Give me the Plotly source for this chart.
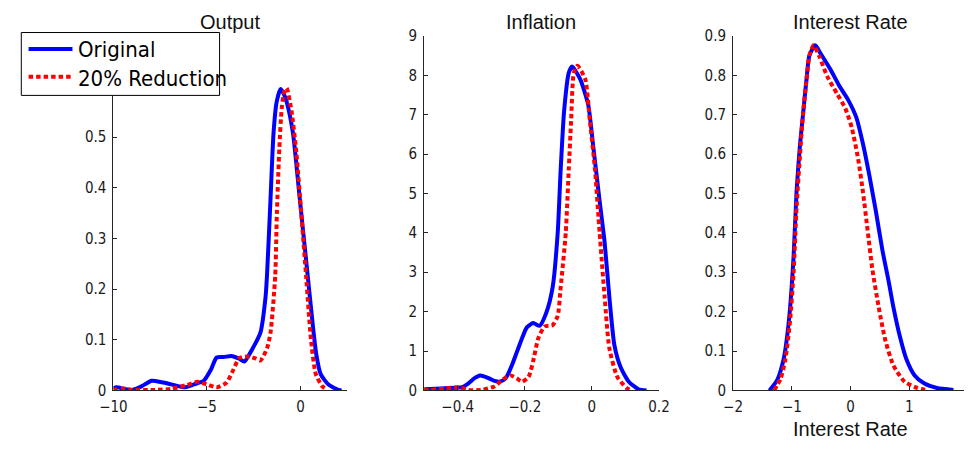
import plotly.graph_objects as go

# ---- Output density ----
out_x_orig = [-10.0, -9.84, -9.4, -8.99, -8.5, -7.95, -7.4, -6.91, -6.2, -5.69, -5.17, -4.8,
              -4.48, -4.1, -3.70, -3.3, -3.0, -2.6, -2.14, -1.87, -1.79, -1.61, -1.44, -1.27,
              -1.06, -0.90, -0.74, -0.40, -0.05, 0.30, 0.65, 0.85, 1.08, 1.51, 2.03, 2.2]
out_y_orig = [0.004, 0.006, 0.003, 0.001, 0.008, 0.019, 0.016, 0.012, 0.006, 0.012, 0.019, 0.040,
              0.065, 0.066, 0.068, 0.063, 0.057, 0.080, 0.114, 0.183, 0.226, 0.370, 0.508, 0.570,
              0.595, 0.586, 0.570, 0.508, 0.383, 0.258, 0.132, 0.070, 0.032, 0.011, 0.001, 0.0]
out_x_red = [-10.0, -9.84, -9.5, -9.0, -7.78, -6.91, -6.05, -5.52, -5.0, -4.48, -3.96, -3.61,
             -3.26, -2.74, -2.4, -2.14, -1.79, -1.6, -1.35, -1.26, -1.13, -1.0, -0.87, -0.74,
             -0.48, -0.22, 0.04, 0.30, 0.56, 0.82, 1.17, 1.43]
out_y_red = [0.001, 0.002, 0.004, 0.001, 0.001, 0.003, 0.011, 0.017, 0.012, 0.006, 0.015, 0.039,
             0.064, 0.067, 0.063, 0.059, 0.083, 0.114, 0.226, 0.351, 0.477, 0.558, 0.590, 0.597,
             0.552, 0.470, 0.351, 0.226, 0.101, 0.032, 0.008, 0.001]

# ---- Inflation density ----
inf_x_orig = [-0.5, -0.45, -0.40, -0.387, -0.368, -0.350, -0.334, -0.320, -0.305, -0.290, -0.276,
              -0.262, -0.252, -0.238, -0.223, -0.208, -0.194, -0.175, -0.156, -0.136, -0.117,
              -0.102, -0.093, -0.083, -0.069, -0.059, -0.035, -0.011, 0.004, 0.023, 0.038, 0.052,
              0.067, 0.086, 0.110, 0.139, 0.163]
inf_y_orig = [0.03, 0.05, 0.07, 0.08, 0.18, 0.31, 0.38, 0.35, 0.30, 0.24, 0.22,
              0.27, 0.38, 0.65, 0.99, 1.33, 1.60, 1.71, 1.64, 1.97, 2.62,
              4.0, 5.62, 7.08, 8.06, 8.22, 7.9, 7.25, 6.19, 4.81, 3.75, 2.37,
              1.15, 0.58, 0.22, 0.03, 0.0]
inf_x_red = [-0.5, -0.484, -0.436, -0.397, -0.368, -0.33, -0.291, -0.262, -0.242, -0.223, -0.209,
             -0.189, -0.175, -0.16, -0.141, -0.117, -0.102, -0.093, -0.078, -0.069, -0.062,
             -0.054, -0.043, -0.020, -0.006, 0.009, 0.023, 0.038, 0.052, 0.076, 0.105, 0.12]
inf_y_red = [0.01, 0.01, 0.05, 0.08, 0.01, 0.01, 0.1, 0.3, 0.38, 0.30, 0.22,
             0.34, 0.75, 1.32, 1.62, 1.66, 1.89, 2.62, 4.0, 5.62, 6.84,
             8.06, 8.24, 7.9, 6.84, 5.62, 4.0, 2.37, 1.07, 0.34, 0.05, 0.0]

# ---- Interest rate density ----
int_x_orig = [-1.38, -1.25, -1.14, -1.05, -0.97, -0.92, -0.86, -0.81, -0.75, -0.70, -0.60, -0.51,
              -0.34, -0.18, -0.04, 0.10, 0.21, 0.32, 0.43, 0.54, 0.65, 0.73, 0.84, 0.95,
              1.09, 1.25, 1.47, 1.75]
int_y_orig = [0.0, 0.026, 0.079, 0.177, 0.34, 0.504, 0.626, 0.70, 0.79, 0.851, 0.876, 0.855,
              0.814, 0.77, 0.737, 0.692, 0.626, 0.545, 0.455, 0.357, 0.275, 0.21, 0.136, 0.079,
              0.038, 0.018, 0.006, 0.001]
int_x_red = [-1.30, -1.19, -1.11, -1.03, -0.97, -0.92, -0.86, -0.81, -0.75, -0.70, -0.63, -0.53,
             -0.40, -0.23, -0.09, 0.02, 0.13, 0.21, 0.29, 0.37, 0.48, 0.59, 0.73, 0.92,
             1.14, 1.31]
int_y_red = [0.0, 0.03, 0.079, 0.177, 0.30, 0.463, 0.60, 0.70, 0.79, 0.85, 0.876, 0.847,
             0.798, 0.753, 0.716, 0.667, 0.586, 0.504, 0.406, 0.308, 0.21, 0.128, 0.063, 0.022,
             0.006, 0.001]

titles = ["Output", "Inflation", "Interest Rate"]
legend_labels = ["Original", "20% Reduction"]

# y tick values per panel (upper Output ticks sit beneath the legend box)
out_yticks = [0, 0.1, 0.2, 0.3, 0.4, 0.5]
inf_yticks = [0, 1, 2, 3, 4, 5, 6, 7, 8, 9]
int_yticks = [0, 0.1, 0.2, 0.3, 0.4, 0.5, 0.6, 0.7, 0.8, 0.9]

W, H = 975, 450
BLUE = "#0000FF"
RED = "#FF0000"
AXC = "#262626"
NARROW = "DejaVu Sans Condensed, Liberation Sans Narrow, sans-serif"
REG = "Liberation Sans, Arial, sans-serif"
RED_DASH = "4.5px,3px"

# axes pixel boxes (left, right), shared top/bottom
boxes = [(102, 342), (421, 662), (738, 975)]
top_px, bot_px = 28, 397.3
centers = [222, 541, 858]

def px_x(p):
    return p / W

def px_y(p):
    return 1 - p / H

fig = go.Figure()

panels = [
    (out_x_orig, out_y_orig, out_x_red, out_y_red),
    (inf_x_orig, inf_y_orig, inf_x_red, inf_y_red),
    (int_x_orig, int_y_orig, int_x_red, int_y_red),
]
for i, (xo, yo, xr, yr) in enumerate(panels):
    suf = "" if i == 0 else str(i + 1)
    fig.add_trace(go.Scatter(x=xo, y=yo, mode="lines",
                             line=dict(color=BLUE, width=4, shape="spline", smoothing=0.6),
                             xaxis="x" + suf, yaxis="y" + suf, showlegend=False, name=legend_labels[0]))
    fig.add_trace(go.Scatter(x=xr, y=yr, mode="lines",
                             line=dict(color=RED, width=4, dash=RED_DASH, shape="spline", smoothing=0.6),
                             xaxis="x" + suf, yaxis="y" + suf, showlegend=False, name=legend_labels[1]))

x_ranges = [[-10, 2.5], [-0.5, 0.2001], [-2, 1.93]]
x_dticks = [5, 0.2, 1]
y_ranges = [[0, 0.7], [0, 9], [0, 0.9]]
y_tickvals = [out_yticks, inf_yticks, int_yticks]

common = dict(showgrid=False, zeroline=False, showline=True, linecolor=AXC, linewidth=1,
              ticks="inside", ticklen=4, tickcolor=AXC, tickwidth=1,
              tickfont=dict(family=NARROW, size=15, color="#1a1a1a"), mirror=False)

layout = dict(width=W, height=H, margin=dict(l=0, r=0, t=0, b=0),
              paper_bgcolor="white", plot_bgcolor="white", showlegend=False)
for i in range(3):
    suf = "" if i == 0 else str(i + 1)
    l, r = boxes[i]
    layout["xaxis" + suf] = dict(common, domain=[px_x(l), px_x(r)], range=x_ranges[i],
                                 dtick=x_dticks[i], tick0=0, anchor="y" + suf, ticklabelstandoff=3)
    layout["yaxis" + suf] = dict(common, domain=[px_y(bot_px), px_y(top_px)], range=y_ranges[i],
                                 tickmode="array", tickvals=y_tickvals[i], anchor="x" + suf,
                                 ticklabelstandoff=3)
fig.update_layout(**layout)

annots = []
for i, t in enumerate(titles):
    annots.append(dict(text=t, x=px_x(centers[i]), y=px_y(14), xref="paper", yref="paper",
                       xanchor="center", yanchor="middle", showarrow=False,
                       font=dict(family=REG, size=20, color="#111")))
annots.append(dict(text="Interest Rate", x=px_x(858), y=px_y(437), xref="paper", yref="paper",
                   xanchor="center", yanchor="middle", showarrow=False,
                   font=dict(family=REG, size=20, color="#111")))

# legend box, drawn on top of the first panel
shapes = [
    dict(type="rect", xref="paper", yref="paper", x0=px_x(7.5), x1=px_x(211), y0=px_y(90), y1=px_y(24.5),
         line=dict(color="black", width=1), fillcolor="white", layer="above"),
    dict(type="line", xref="paper", yref="paper", x0=px_x(15), x1=px_x(60), y0=px_y(41.7), y1=px_y(41.7),
         line=dict(color=BLUE, width=4), layer="above"),
    dict(type="line", xref="paper", yref="paper", x0=px_x(15), x1=px_x(60), y0=px_y(70.7), y1=px_y(70.7),
         line=dict(color=RED, width=4, dash=RED_DASH), layer="above"),
]
for lbl, yy in zip(legend_labels, [42, 72]):
    annots.append(dict(text=lbl, x=px_x(64), y=px_y(yy), xref="paper", yref="paper",
                       xanchor="left", yanchor="middle", showarrow=False,
                       font=dict(family=NARROW, size=22, color="black")))

fig.update_layout(annotations=annots, shapes=shapes)
fig.write_html("out.html")
